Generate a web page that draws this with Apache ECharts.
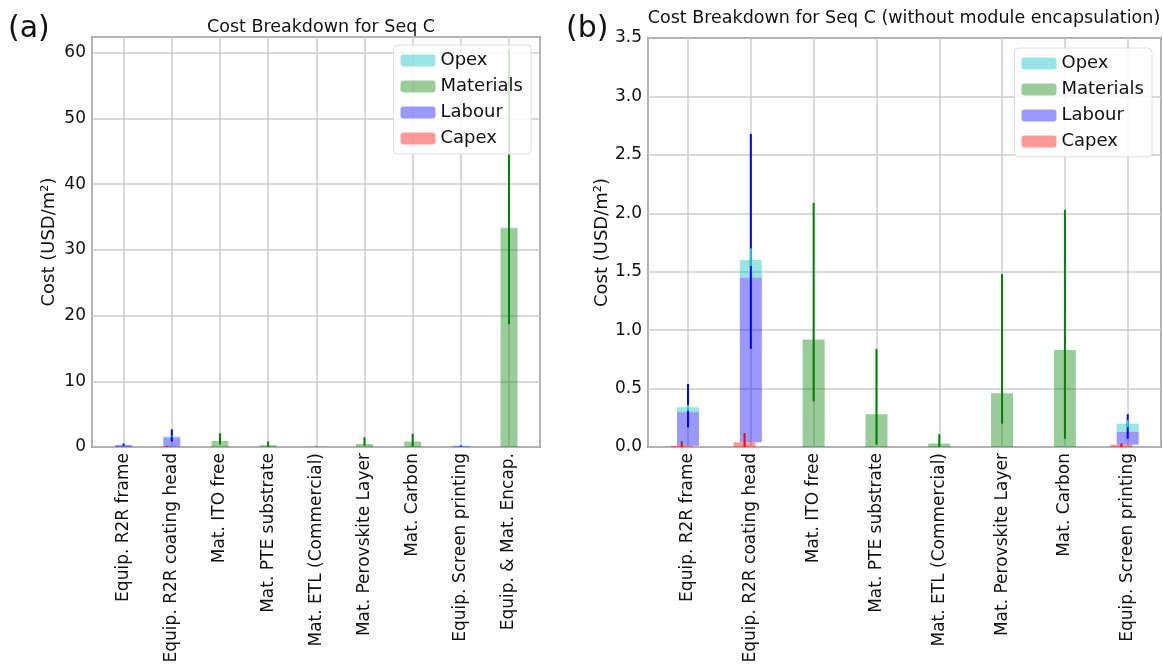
<!DOCTYPE html>
<html>
<head>
<meta charset="utf-8">
<script src="https://cdn.jsdelivr.net/npm/echarts@6/dist/echarts.min.js"></script>
<style>
  html, body { margin: 0; padding: 0; background: #fff; }
  #chart1 { width: 1163px; height: 668px; }
</style>
</head>
<body>
<div id="chart1"></div>
<script>
// categories
var catsA = ['Equip. R2R frame', 'Equip. R2R coating head', 'Mat. ITO free', 'Mat. PTE substrate',
    'Mat. ETL (Commercial)', 'Mat. Perovskite Layer', 'Mat. Carbon', 'Equip. Screen printing',
    'Equip. & Mat. Encap.'];
var catsB = catsA.slice(0, 8); // (b) leaves out encapsulation

// stacked values (USD/m2)
var capex = [0.01, 0.04, 0, 0, 0, 0, 0, 0.02, 0];
var labour = [0.29, 1.41, 0, 0, 0, 0, 0, 0.11, 0];
var materials = [0, 0, 0.92, 0.28, 0.03, 0.46, 0.83, 0, 33.3];
var opex = [0.04, 0.15, 0, 0, 0, 0, 0, 0.07, 0.1];

// error bars [low, high]
var capexErr = [[0, 0.05], [0, 0.12], null, null, null, null, null, [0, 0.03], null];
var labourErr = [[0.17, 0.54], [0.84, 2.68], null, null, null, null, null, [0.07, 0.28], null];
var materialsErr = [null, null, [0.39, 2.09], [0.02, 0.84], [0, 0.11], [0.2, 1.48], [0.07, 2.03], null, [18.7, 60.5]];
var opexErr = [[0.31, 0.36], [1.55, 1.7], null, null, null, null, null, [0.17, 0.23], null];

// y ticks
var ticksA = [0, 10, 20, 30, 40, 50, 60];
var ticksB = [0, 0.5, 1.0, 1.5, 2.0, 2.5, 3.0, 3.5];

var font = 'DejaVu Sans';
var capexShift = -0.1;

var seriesDefs = [
    { name: 'Capex', vals: capex, err: capexErr, color: 'rgba(255,0,0,0.4)', errColor: '#ff0000', shift: capexShift },
    { name: 'Labour', vals: labour, err: labourErr, color: 'rgba(0,0,255,0.4)', errColor: '#0000ff', shift: 0 },
    { name: 'Materials', vals: materials, err: materialsErr, color: 'rgba(0,128,0,0.4)', errColor: '#008000', shift: 0 },
    { name: 'Opex', vals: opex, err: opexErr, color: 'rgba(0,191,191,0.4)', errColor: '#22cccc', shift: 0 }
];

function errRender(color) {
    return function(params, api) {
        var p1 = api.coord([api.value(0), api.value(1)]);
        var p2 = api.coord([api.value(0), api.value(2)]);
        return {
            type: 'line',
            shape: { x1: p1[0], y1: p1[1], x2: p2[0], y2: p2[1] },
            style: { stroke: color, lineWidth: 2 }
        };
    };
}

function buildSeries(idx, n, barW) {
    var out = [];
    seriesDefs.forEach(function(d) {
        var data = [];
        for (var i = 0; i < n; i++) {
            data.push([d.vals[i], i + d.shift]); // [value, x]
        }
        out.push({
            name: d.name,
            type: 'bar',
            stack: 'st' + idx,
            xAxisIndex: idx,
            yAxisIndex: idx,
            barWidth: barW,
            encode: { x: 1, y: 0 },
            itemStyle: { color: d.color },
            data: data,
            z: 2
        });
    });
    seriesDefs.forEach(function(d) {
        var data = [];
        for (var i = 0; i < n; i++) {
            if (d.err[i]) data.push([i + d.shift, d.err[i][0], d.err[i][1]]);
        }
        out.push({
            name: d.name + ' err',
            type: 'custom',
            xAxisIndex: idx,
            yAxisIndex: idx,
            encode: { x: 0, y: [1, 2] },
            renderItem: errRender(d.errColor),
            data: data,
            z: 3
        });
    });
    return out;
}

function xAxisDef(idx, cats, min, max) {
    return {
        type: 'value',
        gridIndex: idx,
        min: min,
        max: max,
        minInterval: 1,
        maxInterval: 1,
        axisLine: { show: false },
        axisTick: { show: false },
        splitLine: { show: true, lineStyle: { color: '#cccccc', width: 1.5 } },
        axisLabel: {
            rotate: 90,
            margin: 6,
            fontFamily: font,
            fontSize: 17,
            color: '#111',
            showMinLabel: false,
            showMaxLabel: false,
            formatter: function(v) {
                return (Math.abs(v - Math.round(v)) < 1e-6 && cats[Math.round(v)]) ? cats[Math.round(v)] : '';
            }
        }
    };
}

function yAxisDef(idx, ticks, max, gap, dec) {
    var step = ticks[1] - ticks[0];
    return {
        type: 'value',
        gridIndex: idx,
        min: 0,
        max: max,
        interval: step,
        name: 'Cost (USD/m²)',
        nameLocation: 'middle',
        nameGap: gap,
        nameTextStyle: { fontFamily: font, fontSize: 18, color: '#111' },
        axisLine: { show: false },
        axisTick: { show: false },
        splitLine: { show: true, lineStyle: { color: '#cccccc', width: 1.5 } },
        axisLabel: {
            fontFamily: font,
            fontSize: 17,
            color: '#111',
            margin: 6,
            formatter: function(v) {
                for (var i = 0; i < ticks.length; i++) {
                    if (Math.abs(ticks[i] - v) < 1e-6) return ticks[i].toFixed(dec);
                }
                return '';
            }
        }
    };
}

function legendDef(right, top) {
    return {
        orient: 'vertical',
        right: right,
        top: top,
        data: ['Opex', 'Materials', 'Labour', 'Capex'],
        itemWidth: 35,
        itemHeight: 12,
        itemGap: 7,
        padding: [6, 8, 6, 7],
        backgroundColor: 'rgba(255,255,255,0.8)',
        borderColor: '#dddddd',
        borderWidth: 1,
        borderRadius: 4,
        textStyle: { fontFamily: font, fontSize: 18, color: '#111', lineHeight: 19 },
        selectedMode: false
    };
}

var chart1 = echarts.init(document.getElementById('chart1'));
var option = {
    animation: false,
    backgroundColor: '#fff',
    graphic: [
        { type: 'text', left: 8, top: 14, style: { text: '(a)', fontFamily: font, fontSize: 30, fill: '#111' } },
        { type: 'text', left: 566, top: 14, style: { text: '(b)', fontFamily: font, fontSize: 30, fill: '#111' } },
        { type: 'text', x: 321, y: 27, style: { text: 'Cost Breakdown for Seq C', fontFamily: font, fontSize: 17.5, fill: '#111', textAlign: 'center', textVerticalAlign: 'middle' } },
        { type: 'text', x: 904, y: 18, style: { text: 'Cost Breakdown for Seq C (without module encapsulation)', fontFamily: font, fontSize: 17.5, fill: '#111', textAlign: 'center', textVerticalAlign: 'middle' } }
    ],
    legend: [legendDef(1163 - 531, 45), legendDef(1163 - 1152, 48)],
    grid: [
        { left: 92, top: 37, right: 623, bottom: 221, show: true, borderColor: '#333', borderWidth: 1.5, backgroundColor: 'transparent' },
        { left: 648, top: 38, right: 2, bottom: 221, show: true, borderColor: '#333', borderWidth: 1.5, backgroundColor: 'transparent' }
    ],
    xAxis: [xAxisDef(0, catsA, -0.656, 8.643), xAxisDef(1, catsB, -0.637, 7.53)],
    yAxis: [yAxisDef(0, ticksA, 62.4, 34, 0), yAxisDef(1, ticksB, 3.5, 36, 1)],
    series: buildSeries(0, 9, 17).concat(buildSeries(1, 8, 22))
};
chart1.setOption(option);
</script>
</body>
</html>
